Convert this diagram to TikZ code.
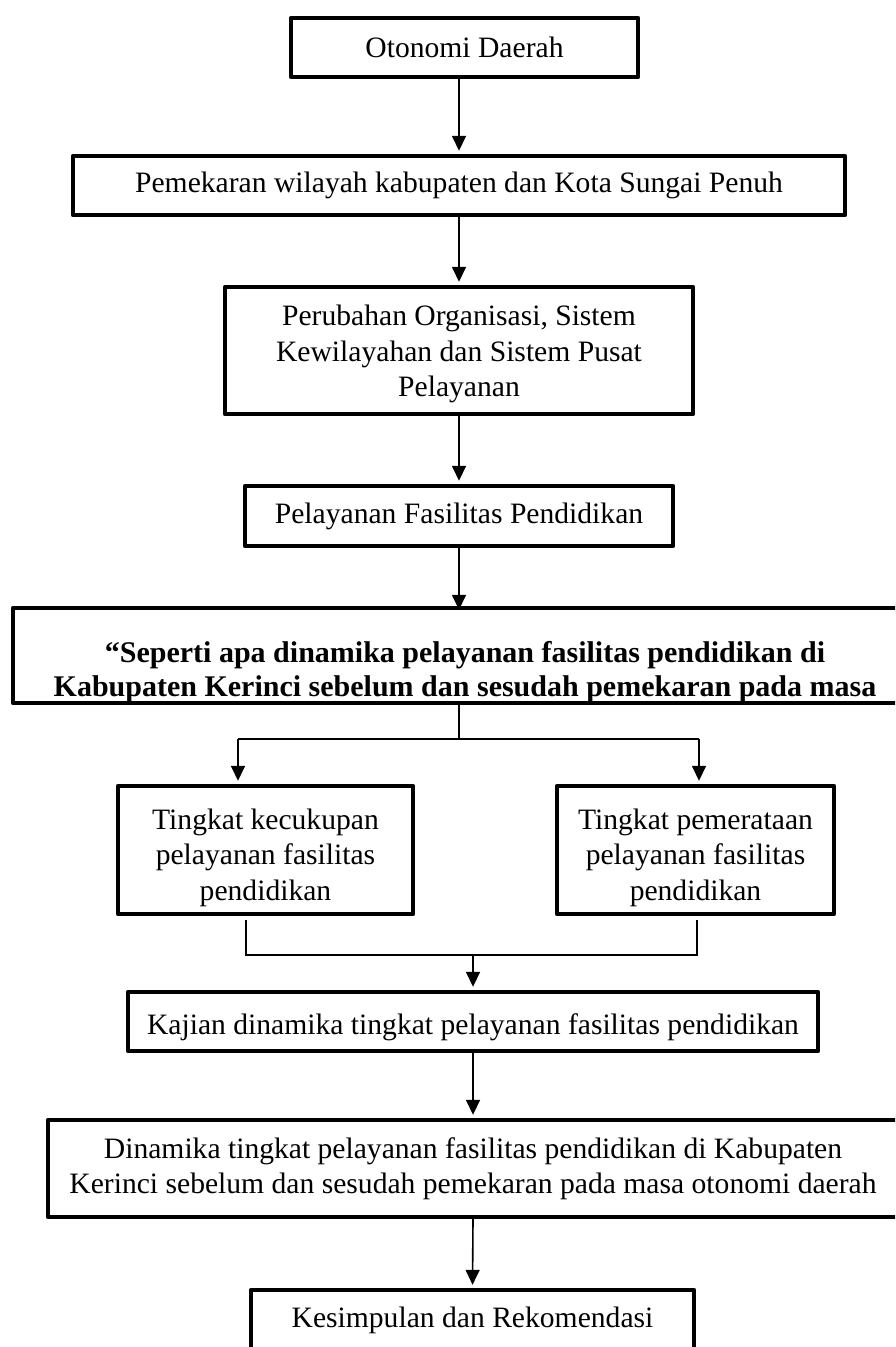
\documentclass[tikz,border=0pt]{standalone}
\usepackage{fontspec}
\setmainfont{Liberation Serif}
\usetikzlibrary{arrows.meta}
\newcommand{\lowstrut}[1]{\rule{0pt}{#1}}
\begin{document}
\begin{tikzpicture}[x=0.5pt,y=-0.5pt,
  box/.style={draw, line width=2.2pt, line join=round, inner sep=0pt, align=center,
    font=\fontsize{14.8pt}{17.75pt}\selectfont},
  boldtext/.style={inner sep=0pt, align=center,
    font=\bfseries\fontsize{15pt}{17pt}\selectfont},
  arr/.style={line width=0.8pt, -{Triangle[length=7.5pt,width=7pt]}, shorten >=1.5pt},
  ln/.style={line width=0.8pt}]
\useasboundingbox (0,0) rectangle (895,1347);
\clip (0,0) rectangle (895,1347);

\node[box, minimum width=173.5pt, minimum height=29.5pt] (b1) at (464.5,47.5) {Otonomi Daerah};
\node[box, minimum width=386pt, minimum height=29.5pt] (b2) at (459,185.5) {Pemekaran wilayah kabupaten dan Kota Sungai Penuh};
\node[box, minimum width=234pt, minimum height=63.5pt] (b3) at (459,350.5) {\lowstrut{14pt}Perubahan Organisasi, Sistem\\Kewilayahan dan Sistem Pusat\\Pelayanan};
\node[box, minimum width=214pt, minimum height=30pt] (b4) at (459,516) {Pelayanan Fasilitas Pendidikan};
\node[box, minimum width=448.5pt, minimum height=47.5pt] (b5) at (461.5,655.5) {};
\node[boldtext, anchor=north] (b5t) at (465,641) {“Seperti apa dinamika pelayanan fasilitas pendidikan di\\Kabupaten Kerinci sebelum dan sesudah pemekaran pada masa};
\node[box, minimum width=147.5pt, minimum height=64pt] (lb) at (265.5,850) {\lowstrut{18pt}Tingkat kecukupan\\pelayanan fasilitas\\pendidikan};
\node[box, minimum width=138.5pt, minimum height=64pt] (rb) at (695.5,850) {\lowstrut{18pt}Tingkat pemerataan\\pelayanan fasilitas\\pendidikan};
\node[box, minimum width=345pt, minimum height=29.5pt] (kj) at (473,1021.5) {\lowstrut{16pt}Kajian dinamika tingkat pelayanan fasilitas pendidikan};
\node[box, minimum width=425pt, minimum height=48.5pt] (dn) at (473,1168.5) {Dinamika tingkat pelayanan fasilitas pendidikan di Kabupaten\\Kerinci sebelum dan sesudah pemekaran pada masa otonomi daerah};
\node[box, minimum width=221.5pt, minimum height=30pt] (ks) at (472.5,1320) {Kesimpulan dan Rekomendasi};

\coordinate (sp) at (459,739);
\coordinate (spL) at (238,739);
\coordinate (spR) at (699,739);
\coordinate (mL) at (246,955);
\coordinate (mR) at (697,955);
\coordinate (mM) at (473,955);

\draw[arr] (b2.north |- b1.south) -- (b2.north);
\draw[arr] (b2.south) -- (b3.north);
\draw[arr] (b4.north |- b3.south) -- (b4.north);
\draw[arr, shorten >=-2pt] (b4.south) -- (b4.south |- b5.north);
\draw[ln] (sp |- b5.south) -- (sp);
\draw[ln] (spL) -- (spR);
\draw[arr] (spL) -- (spL |- lb.north);
\draw[arr] (spR) -- (spR |- rb.north);
\draw[ln, shorten <=2pt] (mL |- lb.south) -- (mL) -- (mR) -- ([yshift=-2pt]mR |- rb.south);
\draw[arr] (mM) -- (kj.north);
\draw[arr] (kj.south) -- (dn.north);
\draw[arr] (dn.south) -- (ks.north);
\end{tikzpicture}
\end{document}
